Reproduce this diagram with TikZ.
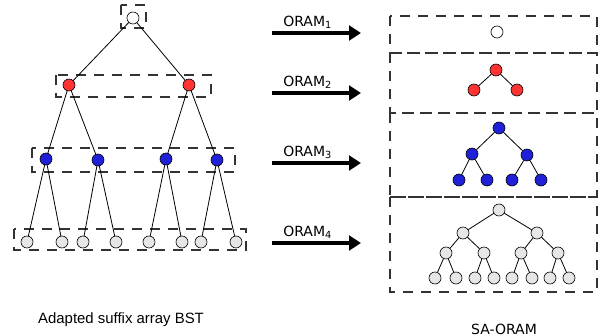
\documentclass[tikz,border=0pt]{standalone}
\usepackage{fontspec}
\setmainfont{DejaVu Sans}
\newfontfamily\labelfont{Liberation Sans}
\usetikzlibrary{arrows.meta}
\definecolor{redfill}{HTML}{FF3333}
\definecolor{bluefill}{HTML}{2020D8}
\definecolor{grayfill}{HTML}{E6E6E6}
\definecolor{dashgray}{HTML}{333333}
\begin{document}
\begin{tikzpicture}[x=0.75pt,y=-0.75pt,
  vtx/.style={circle,draw=black,line width=0.5pt,minimum size=9pt,inner sep=0pt},
  whitev/.style={vtx,fill=white},
  redv/.style={vtx,fill=redfill},
  bluev/.style={vtx,fill=bluefill},
  grayv/.style={vtx,fill=grayfill},
  edge/.style={draw=black,line width=0.6pt},
  levelbox/.style={draw=dashgray,line width=0.8pt,dash pattern=on 7.5pt off 6pt},
  bigarrow/.style={draw=black,line width=3pt,-{Triangle[length=9pt,width=11pt]}},
  oramlabel/.style={font=\fontsize{10.5}{12}\selectfont,anchor=west,inner sep=0pt},
  caption/.style={inner sep=0pt}]
\useasboundingbox (0,0) rectangle (601,336);

% ---- left: suffix array BST, one dashed box per level ----
\draw[levelbox] (121,5) rectangle (146,28);
\draw[levelbox] (56,75) rectangle (211,97);
\draw[levelbox] (32,148) rectangle (235,172);
\draw[levelbox] (14,229) rectangle (246,250);

\coordinate (L0) at (133,18);
\coordinate (L1a) at (69,85);
\coordinate (L1b) at (189,85);
\coordinate (L2a) at (46,159);
\coordinate (L2b) at (98,160);
\coordinate (L2c) at (166,159);
\coordinate (L2d) at (217,160);
\coordinate (L3a) at (27,242);
\coordinate (L3b) at (62,242);
\coordinate (L3c) at (83,242);
\coordinate (L3d) at (116,242);
\coordinate (L3e) at (149,242);
\coordinate (L3f) at (182,242);
\coordinate (L3g) at (201,242);
\coordinate (L3h) at (236,242);

\foreach \p/\c in {L0/L1a,L0/L1b,L1a/L2a,L1a/L2b,L1b/L2c,L1b/L2d,
  L2a/L3a,L2a/L3b,L2b/L3c,L2b/L3d,L2c/L3e,L2c/L3f,L2d/L3g,L2d/L3h}
  \draw[edge] (\p) -- (\c);
\node[whitev] (N0) at (L0) {};
\foreach \n in {L1a,L1b} \node[redv] (N\n) at (\n) {};
\foreach \n in {L2a,L2b,L2c,L2d} \node[bluev] (N\n) at (\n) {};
\foreach \n in {L3a,L3b,L3c,L3d,L3e,L3f,L3g,L3h} \node[grayv] (N\n) at (\n) {};

% ---- middle: one ORAM per level ----
\foreach \i/\y in {1/33,2/93,3/163,4/243}{
  \coordinate (A\i s) at (272,\y);
  \coordinate (A\i e) at (361,\y);
  \draw[bigarrow] (A\i s) -- (A\i e);
  \node[oramlabel] (T\i) at (283,\y-11) {ORAM\textsubscript{\i}};
}

% ---- right: SA-ORAM, one dashed compartment per ORAM ----
\draw[levelbox] (390,16) rectangle (597,53);
\draw[levelbox] (390,53) rectangle (597,113);
\draw[levelbox] (390,113) rectangle (597,197);
\draw[levelbox] (390,197) rectangle (597,292);

% ORAM 1
\node[whitev] (R1) at (497,32) {};
% ORAM 2
\node[redv] (R2) at (496,70) {};
\node[redv] (R2a) at (474,90) {};
\node[redv] (R2b) at (517,90) {};
% ORAM 3
\node[bluev] (R3) at (499,128) {};
\node[bluev] (R3a) at (472,154) {};
\node[bluev] (R3b) at (527,155) {};
\node[bluev] (R3aa) at (459,180) {};
\node[bluev] (R3ab) at (487,180) {};
\node[bluev] (R3ba) at (512,180) {};
\node[bluev] (R3bb) at (541,180) {};
% ORAM 4
\node[grayv] (R4) at (499,210) {};
\node[grayv] (R4a) at (463,233) {};
\node[grayv] (R4b) at (537,233) {};
\node[grayv] (R4aa) at (446,253) {};
\node[grayv] (R4ab) at (484,253) {};
\node[grayv] (R4ba) at (521,253) {};
\node[grayv] (R4bb) at (558,253) {};
\node[grayv] (R4aaa) at (435,278) {};
\node[grayv] (R4aab) at (456,278) {};
\node[grayv] (R4aba) at (475,278) {};
\node[grayv] (R4abb) at (494,278) {};
\node[grayv] (R4baa) at (512,278) {};
\node[grayv] (R4bab) at (532,278) {};
\node[grayv] (R4bba) at (550,278) {};
\node[grayv] (R4bbb) at (569,278) {};

\foreach \p/\c in {R2/R2a,R2/R2b,
  R3/R3a,R3/R3b,R3a/R3aa,R3a/R3ab,R3b/R3ba,R3b/R3bb,
  R4/R4a,R4/R4b,R4a/R4aa,R4a/R4ab,R4b/R4ba,R4b/R4bb,
  R4aa/R4aaa,R4aa/R4aab,R4ab/R4aba,R4ab/R4abb,
  R4ba/R4baa,R4ba/R4bab,R4bb/R4bba,R4bb/R4bbb}
  \draw[edge] (\p) -- (\c);

% ---- captions ----
\node[caption,font=\labelfont\fontsize{11.2}{13}\selectfont] (capL) at (121,320) {Adapted suffix array BST};
\node[caption,font=\fontsize{10.5}{12}\selectfont] (capR) at (504,329) {SA-ORAM};
\end{tikzpicture}
\end{document}
